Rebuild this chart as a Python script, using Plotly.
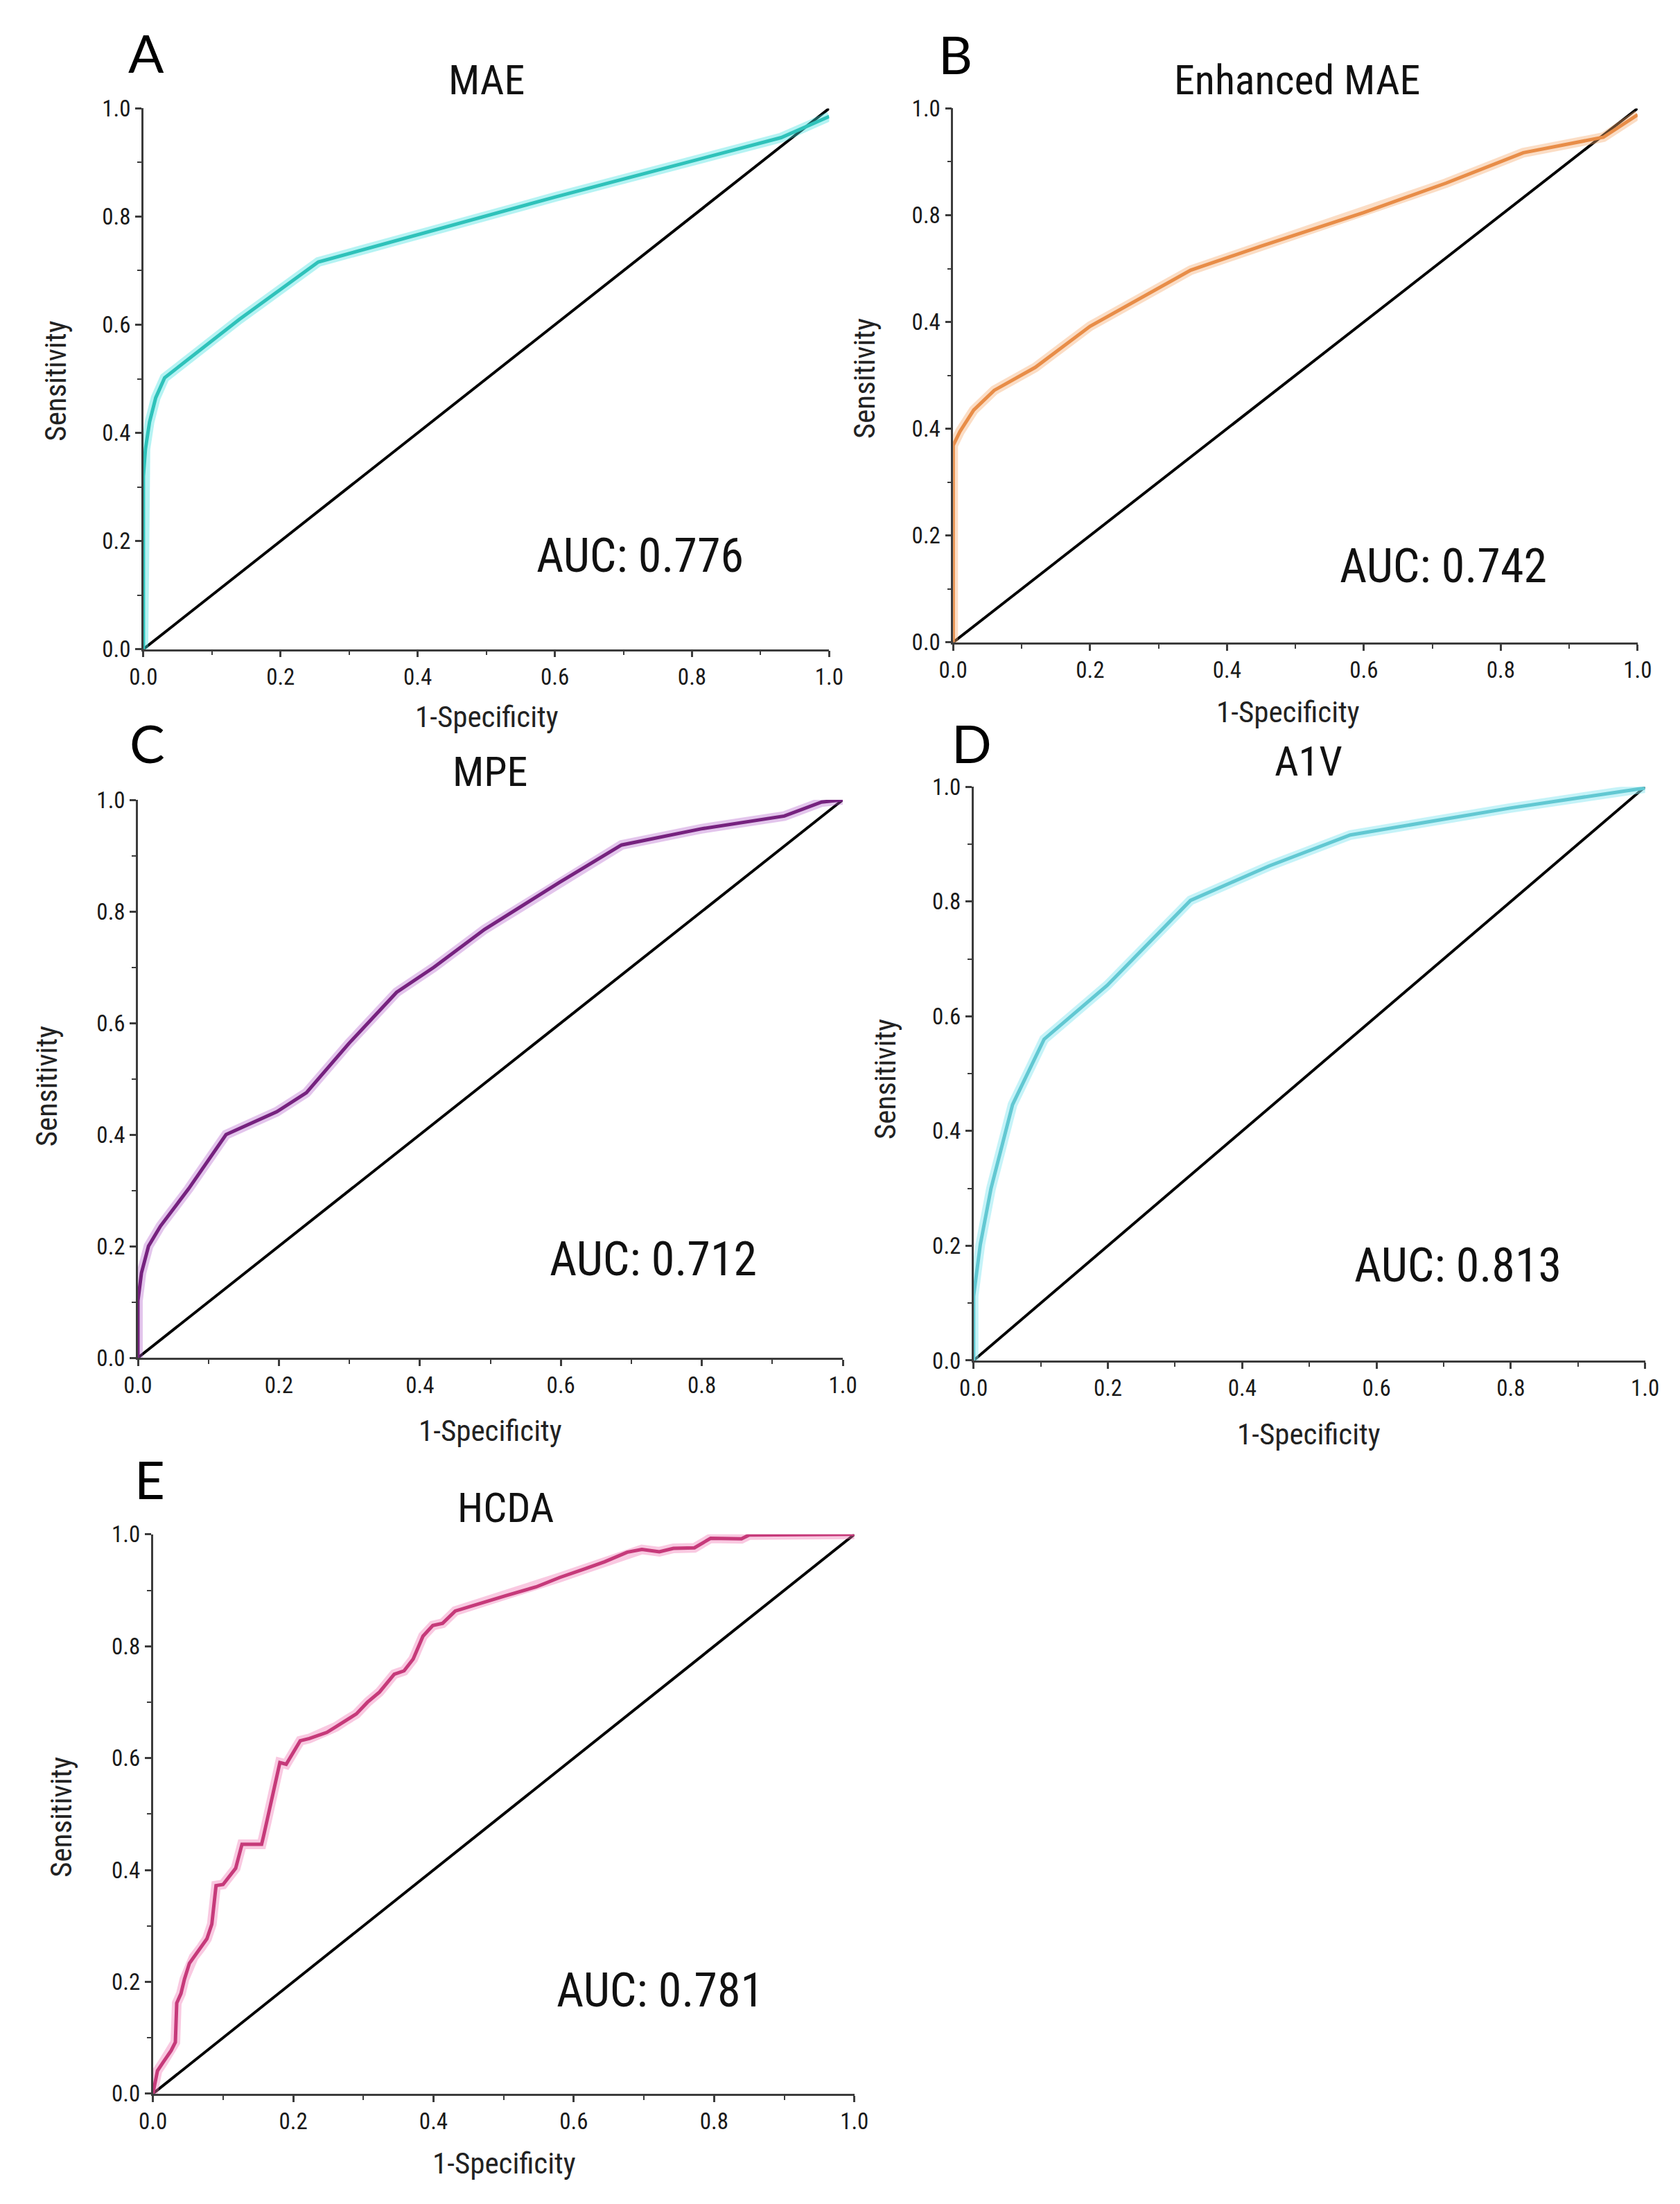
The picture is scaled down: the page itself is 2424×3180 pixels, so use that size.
import plotly.graph_objects as go

# --- ROC data ---
mae_fpr = [0, 0, 0.003, 0.009, 0.018, 0.031, 0.14, 0.255, 0.6, 0.93, 1.0]
mae_tpr = [0, 0.32, 0.37, 0.42, 0.465, 0.502, 0.61, 0.716, 0.836, 0.946, 0.985]

enh_fpr = [0, 0, 0.01, 0.03, 0.06, 0.12, 0.2, 0.28, 0.347, 0.45, 0.6, 0.72, 0.833, 0.95, 1.0]
enh_tpr = [0, 0.369, 0.395, 0.435, 0.472, 0.515, 0.592, 0.65, 0.697, 0.742, 0.805, 0.86, 0.917, 0.946, 0.988]

mpe_fpr = [0, 0, 0.005, 0.015, 0.032, 0.072, 0.125, 0.197, 0.239, 0.299, 0.367, 0.42, 0.492,
           0.598, 0.686, 0.799, 0.917, 0.97, 1.0]
mpe_tpr = [0, 0.102, 0.152, 0.2, 0.236, 0.303, 0.40, 0.441, 0.475, 0.563, 0.655, 0.70, 0.768,
           0.852, 0.919, 0.948, 0.971, 0.996, 1.0]

a1v_fpr = [0, 0, 0.01, 0.026, 0.058, 0.105, 0.199, 0.323, 0.44, 0.561, 0.799, 1.0]
a1v_tpr = [0, 0.112, 0.202, 0.30, 0.446, 0.56, 0.654, 0.802, 0.862, 0.916, 0.963, 0.998]

hcda_fpr = [0, 0.0065, 0.0145, 0.026, 0.032, 0.034, 0.040, 0.045, 0.052, 0.058, 0.069, 0.077,
            0.084, 0.090, 0.100, 0.110, 0.118, 0.127, 0.155, 0.158, 0.165, 0.174, 0.181, 0.190,
            0.200, 0.210, 0.223, 0.248, 0.261, 0.277, 0.290, 0.306, 0.323, 0.344, 0.358, 0.371,
            0.385, 0.399, 0.413, 0.431, 0.456, 0.502, 0.546, 0.580, 0.617, 0.644, 0.676, 0.697,
            0.722, 0.742, 0.772, 0.795, 0.839, 0.850, 1.0]
hcda_tpr = [0, 0.041, 0.056, 0.077, 0.092, 0.162, 0.179, 0.205, 0.233, 0.244, 0.262, 0.277,
            0.303, 0.372, 0.374, 0.390, 0.403, 0.446, 0.446, 0.462, 0.503, 0.549, 0.592, 0.589,
            0.610, 0.631, 0.635, 0.646, 0.656, 0.669, 0.679, 0.700, 0.718, 0.750, 0.756, 0.777,
            0.818, 0.837, 0.841, 0.863, 0.873, 0.890, 0.906, 0.923, 0.939, 0.951, 0.968, 0.973,
            0.969, 0.975, 0.976, 0.993, 0.992, 0.999, 1.0]

chance = [0, 1]

titles = ["MAE", "Enhanced MAE", "MPE", "A1V", "HCDA"]
letters = ["A", "B", "C", "D", "E"]
auc_labels = ["AUC: 0.776", "AUC: 0.742", "AUC: 0.712", "AUC: 0.813", "AUC: 0.781"]

tick_vals = [0, 0.2, 0.4, 0.6, 0.8, 1.0]
tick_text = ["0.0", "0.2", "0.4", "0.6", "0.8", "1.0"]
tick_text_b = ["0.0", "0.2", "0.4", "0.4", "0.8", "1.0"]  # as printed in panel B

curves = [(mae_fpr, mae_tpr), (enh_fpr, enh_tpr), (mpe_fpr, mpe_tpr),
          (a1v_fpr, a1v_tpr), (hcda_fpr, hcda_tpr)]

# --- Layout (pixels in a 2424 x 3180 page) ---
W, H = 2424, 3180
# plot box: left, right, top, bottom
boxes = [(181, 1188, 131, 921), (1370, 2375, 131, 911), (173, 1208, 1141, 1956),
         (1400, 2386, 1122, 1960), (195, 1225, 2214, 3031)]
letter_pos = [(185, 49), (1373, 51), (187, 1057), (1397, 1057), (190, 2133)]
title_pos = [(685, 90), (1875, 90), (690, 1100), (1892, 1085), (713, 2175)]
auc_pos = [(0.724, 0.173), (0.716, 0.142), (0.731, 0.177), (0.721, 0.165), (0.723, 0.184)]
xtitle_pos = [(685, 1019), (1862, 1012), (690, 2062), (1892, 2067), (711, 3132)]
ytitle_pos = [(51, 529), (1239, 526), (39, 1559), (1270, 1549), (60, 2627)]

line_colors = ["#2FC2BA", "#E88D48", "#76227F", "#62C8D2", "#C63A7A"]
glow_colors = ["rgba(70,225,225,0.40)", "rgba(246,170,110,0.40)", "rgba(175,90,200,0.35)",
               "rgba(140,232,242,0.50)", "rgba(240,120,180,0.40)"]

NARROW = "Liberation Sans Narrow, Arial Narrow, Roboto Condensed, DejaVu Sans Condensed, Liberation Sans, sans-serif"
LETTER_FONT = "Lato, Open Sans, sans-serif"
AXIS_COLOR = "#3c3c3c"

fig = go.Figure()
annotations = []


def px(x):
    return x / W


def py(y):
    return 1 - y / H


for i, (fpr, tpr) in enumerate(curves):
    n = "" if i == 0 else str(i + 1)
    xa, ya = "x" + n, "y" + n
    left, right, top, bottom = boxes[i]

    # diagonal reference line
    fig.add_trace(go.Scatter(x=chance, y=chance, mode="lines", xaxis=xa, yaxis=ya,
                             line=dict(color="black", width=4), showlegend=False, hoverinfo="skip"))
    # soft halo then the curve itself
    fig.add_trace(go.Scatter(x=fpr, y=tpr, mode="lines", xaxis=xa, yaxis=ya,
                             line=dict(color=glow_colors[i], width=14), showlegend=False,
                             hoverinfo="skip"))
    fig.add_trace(go.Scatter(x=fpr, y=tpr, mode="lines", xaxis=xa, yaxis=ya,
                             line=dict(color=line_colors[i], width=5), showlegend=False,
                             name=titles[i]))

    common = dict(range=[0, 1], showgrid=False, zeroline=False, showline=True,
                  linecolor=AXIS_COLOR, linewidth=2.5, ticks="outside", ticklen=9,
                  tickwidth=2.5, tickcolor=AXIS_COLOR, tickvals=tick_vals,
                  tickfont=dict(family=NARROW, size=33, color="#1a1a1a"),
                  minor=dict(dtick=0.1, tick0=0, ticks="outside", ticklen=6,
                             tickwidth=2, tickcolor=AXIS_COLOR),
                  fixedrange=True)
    fig.update_layout({
        "xaxis" + n: dict(common, domain=[px(left), px(right)], anchor=ya,
                          ticktext=tick_text),
        "yaxis" + n: dict(common, domain=[py(bottom), py(top)], anchor=xa,
                          ticktext=tick_text_b if i == 1 else tick_text),
    })

    lx, ly = letter_pos[i]
    annotations.append(dict(text=letters[i], x=px(lx), y=py(ly), xref="paper", yref="paper",
                            showarrow=False, xanchor="center", yanchor="middle",
                            font=dict(family=LETTER_FONT, size=76, color="black")))
    tx, ty = title_pos[i]
    annotations.append(dict(text=titles[i], x=px(tx), y=py(ty), xref="paper", yref="paper",
                            showarrow=False, xanchor="center", yanchor="middle",
                            font=dict(family=NARROW, size=60, color="#111")))
    ax_, ay_ = auc_pos[i]
    annotations.append(dict(text=auc_labels[i], x=ax_, y=ay_, xref=xa, yref=ya,
                            showarrow=False, xanchor="center", yanchor="middle",
                            font=dict(family=NARROW, size=68, color="#111")))
    sx, sy = xtitle_pos[i]
    annotations.append(dict(text="1-Specificity", x=px(sx), y=py(sy), xref="paper", yref="paper",
                            showarrow=False, xanchor="center", yanchor="middle",
                            font=dict(family=NARROW, size=43, color="#222")))
    vx, vy = ytitle_pos[i]
    annotations.append(dict(text="Sensitivity", x=px(vx), y=py(vy), xref="paper", yref="paper",
                            showarrow=False, xanchor="center", yanchor="middle", textangle=-90,
                            font=dict(family=NARROW, size=43, color="#222")))

fig.update_layout(
    width=W, height=H, autosize=False,
    margin=dict(l=0, r=0, t=0, b=0),
    paper_bgcolor="white", plot_bgcolor="white",
    showlegend=False,
    annotations=annotations,
)

fig.write_html("out.html", config={"displayModeBar": False})
